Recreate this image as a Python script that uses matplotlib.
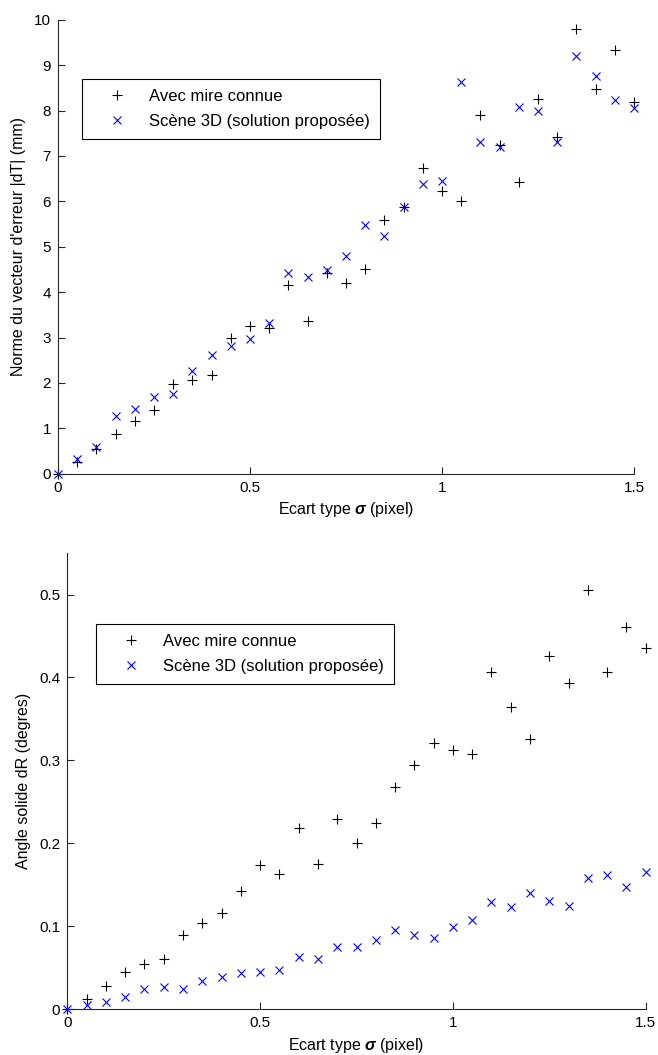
import numpy as np
import matplotlib
matplotlib.use('Agg')
import matplotlib.pyplot as plt
from matplotlib.ticker import FormatStrFormatter

plt.rcParams['font.family'] = ['Liberation Sans', 'DejaVu Sans']
plt.rcParams['mathtext.fontset'] = 'custom'
plt.rcParams['mathtext.rm'] = 'Liberation Sans'
plt.rcParams['mathtext.it'] = 'Liberation Sans:italic'
plt.rcParams['mathtext.bf'] = 'Liberation Sans:bold:italic'

# ecart type sigma (pixel)
sigma = [0.0, 0.05, 0.1, 0.15, 0.2, 0.25, 0.3, 0.35, 0.4, 0.45, 0.5,
         0.55, 0.6, 0.65, 0.7, 0.75, 0.8, 0.85, 0.9, 0.95, 1.0,
         1.05, 1.1, 1.15, 1.2, 1.25, 1.3, 1.35, 1.4, 1.45, 1.5]

# norme |dT| (mm)
dT_mire = [0.0, 0.26, 0.54, 0.88, 1.15, 1.40, 1.97, 2.06, 2.18, 2.98, 3.26,
           3.21, 4.15, 3.37, 4.41, 4.20, 4.50, 5.59, 5.88, 6.73, 6.23,
           6.00, 7.90, 7.24, 6.43, 8.25, 7.42, 9.80, 8.47, 9.33, 8.18]
dT_scene = [0.0, 0.32, 0.59, 1.27, 1.43, 1.68, 1.76, 2.26, 2.61, 2.81, 2.97,
            3.32, 4.41, 4.34, 4.49, 4.80, 5.48, 5.24, 5.87, 6.39, 6.45,
            8.63, 7.30, 7.20, 8.08, 8.00, 7.30, 9.19, 8.77, 8.23, 8.05]

# angle solide dR (degres)
dR_mire = [0.0, 0.013, 0.028, 0.045, 0.055, 0.061, 0.090, 0.104, 0.116, 0.143, 0.174,
           0.163, 0.219, 0.175, 0.230, 0.201, 0.224, 0.268, 0.295, 0.321, 0.313,
           0.308, 0.406, 0.365, 0.326, 0.426, 0.393, 0.506, 0.407, 0.461, 0.436]
dR_scene = [0.0, 0.005, 0.009, 0.015, 0.025, 0.027, 0.024, 0.034, 0.039, 0.044, 0.045,
            0.047, 0.063, 0.061, 0.075, 0.075, 0.083, 0.096, 0.090, 0.086, 0.099,
            0.108, 0.129, 0.123, 0.140, 0.131, 0.125, 0.158, 0.162, 0.147, 0.165]

labels = ['Avec mire connue', 'Scène 3D (solution proposée)']
xlabel = r'Ecart type $\mathbf{\sigma}$ (pixel)'

fs_tick = 11
fs_lab = 11.5
fs_leg = 12
fig = plt.figure(figsize=(6.58, 10.55), dpi=100)
ax1 = fig.add_axes([0.0881, 0.551, 0.8754, 0.4303])
ax2 = fig.add_axes([0.1023, 0.0433, 0.8790, 0.4325])


def style(ax, ylim, yticks, ylabel, leg_anchor):
    ax.set_xlim(0, 1.5)
    ax.set_ylim(*ylim)
    ax.set_xticks([0, 0.5, 1, 1.5])
    ax.set_yticks(yticks)
    ax.xaxis.set_major_formatter(FormatStrFormatter('%g'))
    ax.yaxis.set_major_formatter(FormatStrFormatter('%g'))
    for s in ['top', 'right']:
        ax.spines[s].set_visible(False)
    for s in ['left', 'bottom']:
        ax.spines[s].set_linewidth(0.8)
        ax.spines[s].set_color('#262626')
    ax.tick_params(direction='in', length=5, width=0.8, labelsize=fs_tick,
                   color='#262626', pad=5)
    ax.set_xlabel(xlabel, fontsize=fs_lab, labelpad=4)
    ax.set_ylabel(ylabel, fontsize=fs_lab, labelpad=6)
    leg = ax.legend(loc='upper left', bbox_to_anchor=leg_anchor, fontsize=fs_leg,
                    fancybox=False, edgecolor='black', framealpha=1,
                    borderpad=0.6, handlelength=3.0, handletextpad=0.45,
                    labelspacing=0.6, borderaxespad=0)
    leg.get_frame().set_linewidth(0.8)


ax1.plot(sigma, dT_mire, '+', color='black', ms=7, mew=0.8, label=labels[0], clip_on=False)
ax1.plot(sigma, dT_scene, 'x', color='#0000ff', ms=5.5, mew=0.8, label=labels[1], clip_on=False)
style(ax1, (0, 10), np.arange(0, 11, 1), "Norme du vecteur d'erreur |dT| (mm)",
      (0.041, 0.869))

ax2.plot(sigma, dR_mire, '+', color='black', ms=7, mew=0.8, label=labels[0], clip_on=False)
ax2.plot(sigma, dR_scene, 'x', color='#0000ff', ms=5.5, mew=0.8, label=labels[1], clip_on=False)
style(ax2, (0, 0.55), [0, 0.1, 0.2, 0.3, 0.4, 0.5], 'Angle solide dR (degres)',
      (0.049, 0.844))

fig.savefig('out.png', dpi=100)
